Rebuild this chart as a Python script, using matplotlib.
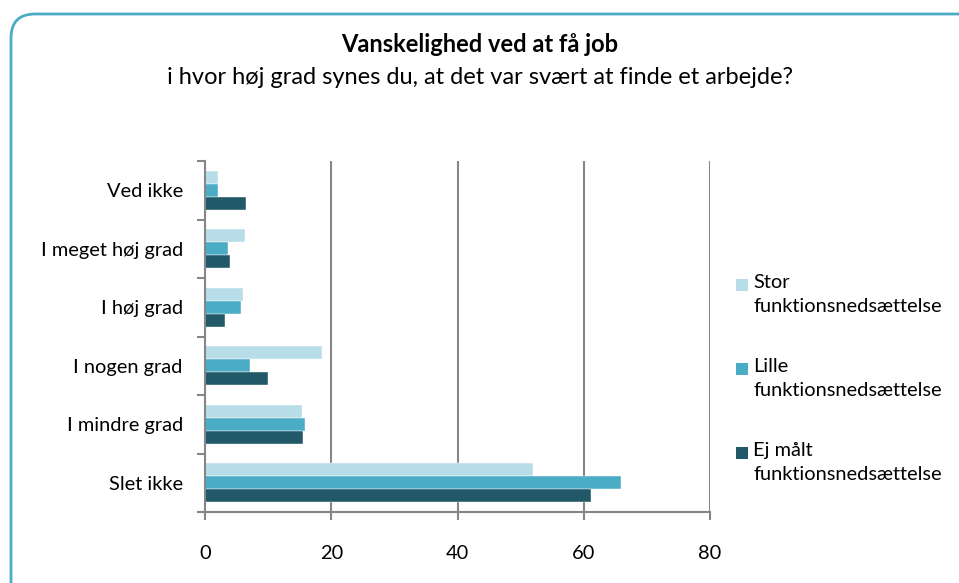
import numpy as np
import matplotlib
matplotlib.use("Agg")
import matplotlib.pyplot as plt
from matplotlib.patches import FancyBboxPatch, Rectangle

plt.rcParams['font.family'] = ['Lato', 'DejaVu Sans']

# data (percent)
categories = ["Ved ikke", "I meget høj grad", "I høj grad",
              "I nogen grad", "I mindre grad", "Slet ikke"]
series_names = ["Stor\nfunktionsnedsættelse",
                "Lille\nfunktionsnedsættelse",
                "Ej målt\nfunktionsnedsættelse"]
stor = [2.1, 6.3, 6.0, 18.6, 15.4, 51.9]
lille = [2.0, 3.7, 5.7, 7.2, 15.8, 65.9]
ej_maalt = [6.5, 3.9, 3.2, 10.0, 15.5, 61.1]
x_ticks = [0, 20, 40, 60, 80]

colors = ["#B7DEE8", "#4BACC6", "#215968"]
grid_col = "#868686"
fs = 14.4

W, H = 959, 583
fig = plt.figure(figsize=(W / 100, H / 100), dpi=100)

# rounded frame round the whole chart (cut off at right and bottom)
frame = FancyBboxPatch((11, -30), 1000, H - 14 + 30,
                       boxstyle="round,pad=0,rounding_size=24",
                       transform=None, facecolor="none",
                       edgecolor="#4BACC6", linewidth=2, zorder=-1)
fig.patches.append(frame)

ax = fig.add_axes([205 / W, (H - 512) / H, 505 / W, 351 / H])
ax.set_facecolor("none")

n = len(categories)
y = np.arange(n)
h = 0.222
for i, (vals, col) in enumerate(zip([stor, lille, ej_maalt], colors)):
    ax.barh(y + (i - 1) * h, vals, height=h, color=col, zorder=3,
            edgecolor="white", linewidth=0.3)

ax.set_xlim(0, 80)
ax.set_ylim(n - 0.5, -0.5)
ax.set_xticks(x_ticks)
ax.set_xticklabels([str(t) for t in x_ticks], fontsize=fs)
ax.set_yticks(y)
ax.set_yticklabels(categories, fontsize=fs)
ax.set_yticks(np.arange(n + 1) - 0.5, minor=True)
ax.tick_params(axis="y", which="major", length=0, pad=16)
ax.tick_params(axis="y", which="minor", length=6, width=1.5, color=grid_col)
ax.tick_params(axis="x", length=6, width=1.5, color=grid_col, pad=18)

ax.grid(axis="x", color=grid_col, linewidth=1.5, zorder=1)
for s in ["top", "right"]:
    ax.spines[s].set_visible(False)
for s in ["left", "bottom"]:
    ax.spines[s].set_color(grid_col)
    ax.spines[s].set_linewidth(1.5)
    ax.spines[s].set_zorder(4)

# titles
fig.text(480 / W, 1 - 45 / H, "Vanskelighed ved at få job", ha="center",
         va="center", fontsize=17, fontweight="bold")
fig.text(480 / W, 1 - 77 / H,
         "i hvor høj grad synes du, at det var svært at finde et arbejde?",
         ha="center", va="center", fontsize=17)

# legend, square aligned with the first line of each label
for k, (name, col) in enumerate(zip(series_names, colors)):
    yc = 285 + k * 84
    fig.patches.append(Rectangle((736, H - yc - 6), 12, 12, transform=None,
                                 facecolor=col, edgecolor="none"))
    fig.text(753 / W, 1 - (yc - 11) / H, name, ha="left", va="top",
             fontsize=fs, linespacing=1.5)

fig.savefig("out.png", dpi=100)
